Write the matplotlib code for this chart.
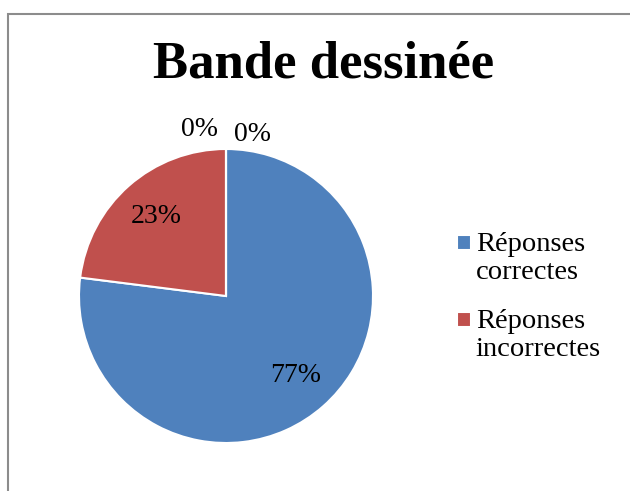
import matplotlib.pyplot as plt
from matplotlib.patches import Rectangle
from matplotlib.legend_handler import HandlerPatch

title = "Bande dessinée"
labels = ["Réponses\ncorrectes", "Réponses\nincorrectes", "", ""]
values = [77, 23, 0, 0]
colors = ["#4F81BD", "#C0504D", "#9BBB59", "#8064A2"]

plt.rcParams['font.family'] = ['Liberation Serif', 'DejaVu Serif']

fig = plt.figure(figsize=(6.3, 4.91), dpi=100)

# chart border (partly cut off on the right and bottom)
fig.patches.append(Rectangle((8 / 630, -0.05), 1.0, 1.05 - 14 / 491,
                             transform=fig.transFigure, fill=False,
                             edgecolor="#8c8c8c", linewidth=1.5))

fig.text(0.513, 0.868, title, ha="center", va="center",
         fontsize=38, fontweight="bold")

ax = fig.add_axes([79 / 630, 48 / 491, 294 / 630, 294 / 491])
wedges, texts, autotexts = ax.pie(
    values, colors=colors, startangle=90, counterclock=False,
    autopct="%1.0f%%", pctdistance=0.72,
    wedgeprops=dict(edgecolor="white", linewidth=1.5),
    textprops=dict(fontsize=20))
ax.set_xlim(-1, 1)
ax.set_ylim(-1, 1)
ax.set_aspect("equal")

# zero slices: labels put outside above the pie
for t, dx in zip(autotexts[2:], [-0.18, 0.18]):
    t.set_position((dx, 1.13 if dx < 0 else 1.10))


# legend square next to the first line of the two-line label
def top_square(legend, orig_handle, xdescent, ydescent, width, height, fontsize):
    s = 0.5 * fontsize
    return Rectangle((-xdescent, -ydescent + 0.57 * fontsize), s, s)


fig.legend(wedges[:2], labels[:2], loc="upper left",
           bbox_to_anchor=(0.685, 0.58), frameon=False, fontsize=20.5,
           handlelength=0.5, handleheight=0.5, handletextpad=0.15,
           labelspacing=0.85,
           handler_map={wedges[0]: HandlerPatch(patch_func=top_square),
                        wedges[1]: HandlerPatch(patch_func=top_square)})
for t in fig.legends[0].get_texts():
    t.set_linespacing(1.15)

fig.savefig("out.png", dpi=100)
